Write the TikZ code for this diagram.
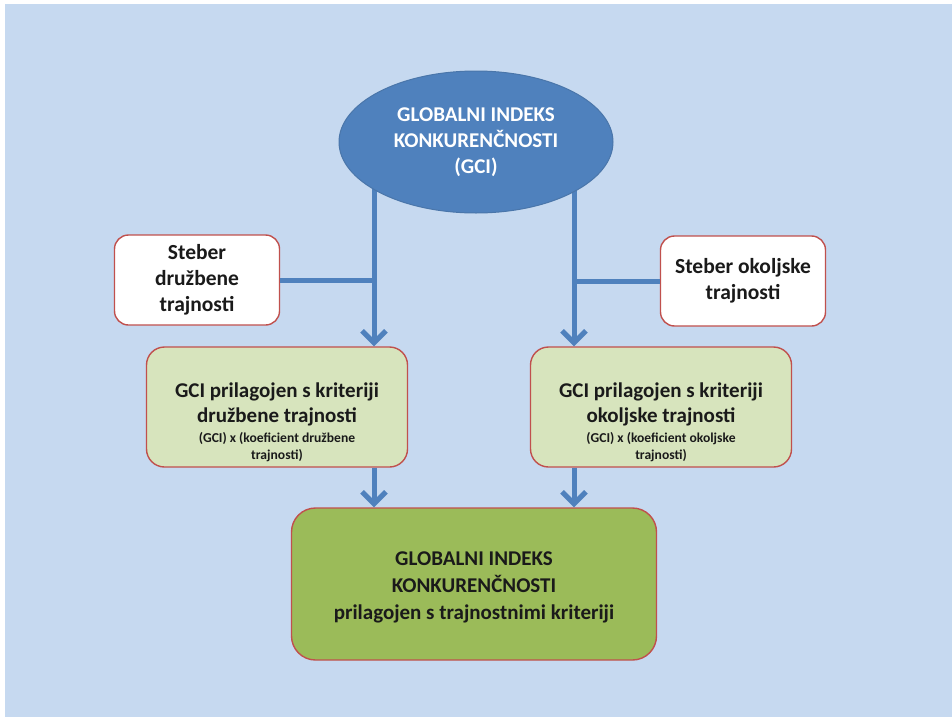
\documentclass[tikz,border=0pt]{standalone}
\usepackage{fontspec}
\setmainfont{Carlito}
\usetikzlibrary{arrows.meta,shapes.geometric}
\definecolor{bgblue}{HTML}{C6D9F0}
\definecolor{ellblue}{HTML}{4F81BD}
\definecolor{ellborder}{HTML}{4A76AA}
\definecolor{arrblue}{HTML}{4F81BD}
\definecolor{redline}{HTML}{C0504D}
\definecolor{lightgreen}{HTML}{D7E4BD}
\definecolor{darkgreen}{HTML}{9BBB59}
\definecolor{txt}{HTML}{1A1A1A}
\tikzset{
  pillarbox/.style={draw=redline, line width=1.4pt, fill=white, rounded corners=14pt,
    minimum width=165pt, minimum height=90pt, align=center, font=\bfseries\fontsize{21.5}{26}\selectfont, text=txt, inner sep=0pt},
  adjbox/.style={draw=redline, line width=1.4pt, fill=lightgreen, rounded corners=18pt,
    minimum width=261pt, minimum height=120pt},
  finalbox/.style={draw=redline, line width=1.4pt, fill=darkgreen, rounded corners=24pt,
    minimum width=365pt, minimum height=152pt},
  bigtxt/.style={align=center, text=txt, inner sep=0pt, font=\bfseries\fontsize{21}{25}\selectfont},
  smalltxt/.style={align=center, text=txt, inner sep=0pt, font=\bfseries\fontsize{13.6}{17}\selectfont},
  conn/.style={draw=arrblue, line width=5pt},
  arr/.style={conn, -{Straight Barb[length=12pt,width=24pt]}},
}
\begin{document}
\begin{tikzpicture}[x=1pt,y=-1pt]
\useasboundingbox (0,0) rectangle (952,717);
\fill[bgblue] (5,4) rectangle (952,717);

% connector anchors
\coordinate (lt) at (374,175);
\coordinate (rt) at (574,175);

% nodes
\node[pillarbox] (sd) at (197,280) {Steber\\družbene\\trajnosti};
\node[pillarbox] (so) at (743,281) {Steber okoljske\\trajnosti};
\node[adjbox] (gd) at (277,407) {};
\node[bigtxt] (gdt) at (277,404) {GCI prilagojen s kriteriji\\družbene trajnosti};
\node[smalltxt] (gds) at (277,447) {(GCI) x (koeficient družbene\\trajnosti)};
\node[adjbox] (go) at (661,407) {};
\node[bigtxt] (got) at (661,404) {GCI prilagojen s kriteriji\\okoljske trajnosti};
\node[smalltxt] (gos) at (661,447) {(GCI) x (koeficient okoljske\\trajnosti)};
\node[finalbox] (final) at (474,584) {};
\node[bigtxt, font=\bfseries\fontsize{21}{27}\selectfont] (finalt) at (474,587) {GLOBALNI INDEKS\\KONKURENČNOSTI\\prilagojen s trajnostnimi kriteriji};

% connectors
\draw[conn] (sd.east) -- (sd.east -| lt);
\draw[conn] (so.west) -- (so.west -| rt);
\draw[arr] (lt) -- (lt |- gd.north);
\draw[arr] (rt) -- (rt |- go.north);
\draw[arr] (gd.south -| lt) -- (final.north -| lt);
\draw[arr] (go.south -| rt) -- (final.north -| rt);

% top ellipse
\node[ellipse, draw=ellborder, line width=1pt, fill=ellblue, minimum width=274pt, minimum height=142pt,
  inner sep=0pt, align=center, text=white, font=\bfseries\fontsize{21}{26}\selectfont] (gci) at (476,142)
  {GLOBALNI INDEKS\\KONKURENČNOSTI\\(GCI)};
\end{tikzpicture}
\end{document}
